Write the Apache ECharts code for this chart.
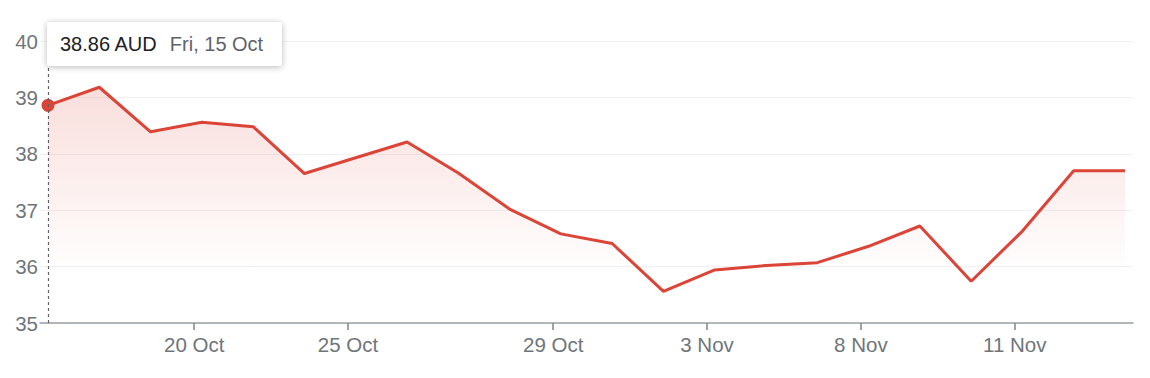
<!DOCTYPE html>
<html>
<head>
<meta charset="utf-8">
<script src="https://cdn.jsdelivr.net/npm/echarts@6/dist/echarts.min.js"></script>
<style>
html,body{margin:0;padding:0;background:#fff;}
#c{width:1150px;height:378px;}
</style>
</head>
<body>
<div id="c"></div>
<script>
// trading days (15 Oct - 15 Nov)
const dates = ['Fri, 15 Oct','Mon, 18 Oct','Tue, 19 Oct','Wed, 20 Oct','Thu, 21 Oct','Fri, 22 Oct',
  'Mon, 25 Oct','Tue, 26 Oct','Wed, 27 Oct','Thu, 28 Oct','Fri, 29 Oct',
  'Mon, 1 Nov','Tue, 2 Nov','Wed, 3 Nov','Thu, 4 Nov','Fri, 5 Nov',
  'Mon, 8 Nov','Tue, 9 Nov','Wed, 10 Nov','Thu, 11 Nov','Fri, 12 Nov','Mon, 15 Nov'];
const prices = [38.86, 39.18, 38.39, 38.56, 38.48, 37.65,
  37.93, 38.21, 37.66, 37.02, 36.58,
  36.41, 35.56, 35.94, 36.02, 36.07,
  36.36, 36.72, 35.74, 36.63, 37.70, 37.70];
const tickLabels = ['20 Oct','25 Oct','29 Oct','3 Nov','8 Nov','11 Nov'];
const tickIndex = [3, 6, 10, 13, 16, 19];
const currency = 'AUD';
const yTicks = [35, 36, 37, 38, 39, 40];

const tickShift = -0.15;
const tickPos = tickIndex.map(i => i + tickShift);
const seriesData = prices.map((p, i) => [i, p]);
const FONT = '"Liberation Sans", Arial, sans-serif';
const RED = '#db4437';

const chart = echarts.init(document.getElementById('c'), null, {renderer: 'svg'});
chart.setOption({
  animation: false,
  grid: {left: 40, right: 17, top: 41, bottom: 55, containLabel: false},
  xAxis: {
    type: 'value',
    min: -0.156,
    max: prices.length - 1 + 0.156,
    axisLine: {show: true, lineStyle: {color: '#9aa0a6', width: 1.5}},
    axisTick: {show: true, customValues: tickPos, length: 7, lineStyle: {color: '#80868b', width: 1.5}},
    axisLabel: {
      show: true, customValues: tickPos, margin: 11,
      color: '#70757a', fontSize: 20.5, fontFamily: FONT,
      formatter: (v) => {
        const k = tickPos.findIndex(t => Math.abs(t - v) < 1e-6);
        return k >= 0 ? tickLabels[k] : '';
      }
    },
    splitLine: {show: false}
  },
  yAxis: {
    type: 'value',
    min: yTicks[0], max: yTicks[yTicks.length - 1], interval: 1,
    axisLine: {show: false},
    axisTick: {show: false},
    axisLabel: {color: '#70757a', fontSize: 20.5, fontFamily: FONT, margin: 2},
    splitLine: {show: true, lineStyle: {color: '#f1f1f1', width: 1}}
  },
  series: [{
    type: 'line',
    data: seriesData,
    symbol: 'circle',
    showSymbol: true,
    symbolSize: (v, p) => (p.dataIndex === 0 ? 13 : 0),
    itemStyle: {color: RED},
    lineStyle: {color: RED, width: 3},
    areaStyle: {
      color: new echarts.graphic.LinearGradient(0, 0, 0, 1, [
        {offset: 0, color: 'rgba(219,68,55,0.25)'},
        {offset: 0.8, color: 'rgba(219,68,55,0)'}
      ])
    },
    markLine: {
      silent: true,
      symbol: 'none',
      label: {show: false},
      lineStyle: {color: '#5f6368', type: [3, 3], width: 1.2},
      data: [{xAxis: 0}]
    },
    z: 3
  }],
  graphic: [{
    type: 'group',
    left: 47, top: 22,
    z: 100,
    children: [{
      type: 'rect',
      shape: {x: 0, y: 0, width: 235, height: 44, r: 3},
      style: {fill: '#fff', shadowBlur: 6, shadowColor: 'rgba(0,0,0,0.28)', shadowOffsetY: 1},
      z: 100
    }, {
      type: 'text',
      x: 13, y: 22,
      z: 101,
      style: {
        text: '{a|' + prices[0].toFixed(2) + ' ' + currency + '}{b|' + dates[0] + '}',
        verticalAlign: 'middle',
        rich: {
          a: {fontSize: 20, fontFamily: FONT, fill: '#202124', color: '#202124', padding: [0, 12, 0, 0]},
          b: {fontSize: 20, fontFamily: FONT, fill: '#5f6368', color: '#5f6368'}
        }
      }
    }]
  }]
});
</script>
</body>
</html>
